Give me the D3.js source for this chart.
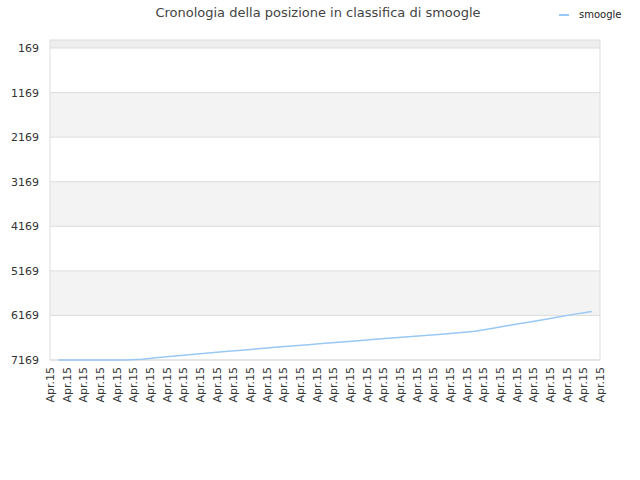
<!DOCTYPE html>
<html>
<head>
<meta charset="utf-8">
<script src="https://cdn.jsdelivr.net/npm/d3@7"></script>
<style>
  body { margin: 0; background: #fff; }
  text { font-family: "DejaVu Sans", sans-serif; }
</style>
</head>
<body>
<div id="chart"></div>
<script>
// Ranking history data
const dates = Array.from({ length: 34 }, () => 'Apr.15');
const ranks = [7169, 7169, 7169, 7169, 7169, 7150, 7115, 7080, 7045, 7012, 6980,
  6948, 6916, 6885, 6855, 6825, 6795, 6765, 6735, 6706, 6677, 6648, 6620,
  6590, 6560, 6525, 6460, 6395, 6335, 6270, 6205, 6140, 6080];
const yTicks = [169, 1169, 2169, 3169, 4169, 5169, 6169, 7169];

const W = 640, H = 480;
const plotL = 50, plotR = 600, plotT = 40, plotB = 360;

const svg = d3.select('#chart').append('svg')
  .attr('width', W).attr('height', H);

const y = d3.scaleLinear().domain([169, 7169]).range([48, 360]);
const xLab = d3.scalePoint().domain(d3.range(dates.length)).range([plotL, plotR]);
const xBand = d3.scaleBand().domain(d3.range(ranks.length)).range([plotL, plotR]);

// alternating bands
svg.append('rect').attr('x', plotL).attr('y', plotT).attr('width', plotR - plotL)
  .attr('height', y(169) - plotT).attr('fill', '#eeeeee');
for (let i = 0; i < yTicks.length - 1; i++) {
  svg.append('rect')
    .attr('x', plotL).attr('y', y(yTicks[i]))
    .attr('width', plotR - plotL).attr('height', y(yTicks[i + 1]) - y(yTicks[i]))
    .attr('fill', i % 2 ? '#f3f3f3' : '#ffffff');
}

// grid lines
svg.selectAll('.grid').data(yTicks).enter().append('line')
  .attr('x1', plotL).attr('x2', plotR)
  .attr('y1', d => y(d)).attr('y2', d => y(d))
  .attr('stroke', '#dddddd');
svg.append('rect').attr('x', plotL).attr('y', plotT).attr('width', plotR - plotL)
  .attr('height', plotB - plotT).attr('fill', 'none').attr('stroke', '#dddddd');

// y labels
svg.selectAll('.yl').data(yTicks).enter().append('text')
  .attr('x', plotL - 11).attr('y', d => y(d) + 4)
  .attr('text-anchor', 'end').attr('font-size', 11).attr('fill', '#333')
  .text(d => d);

// x labels
svg.selectAll('.xl').data(dates).enter().append('text')
  .attr('transform', (d, i) => `translate(${xLab(i) + 4},${plotB + 7}) rotate(-90)`)
  .attr('text-anchor', 'end').attr('font-size', 11).attr('fill', '#333')
  .text(d => d);

// line
const line = d3.line()
  .x((d, i) => xBand(i) + xBand.bandwidth() / 2)
  .y(d => y(d));
svg.append('path').datum(ranks)
  .attr('d', line).attr('fill', 'none')
  .attr('stroke', '#99c8f5').attr('stroke-width', 1.5);

// title
svg.append('text').attr('x', 318).attr('y', 17)
  .attr('text-anchor', 'middle').attr('font-size', 13).attr('fill', '#444')
  .text('Cronologia della posizione in classifica di smoogle');

// legend
svg.append('line').attr('x1', 559).attr('x2', 569).attr('y1', 15).attr('y2', 15)
  .attr('stroke', '#99c8f5').attr('stroke-width', 2);
svg.append('text').attr('x', 579).attr('y', 18)
  .attr('font-size', 10).attr('fill', '#222').text('smoogle');
</script>
</body>
</html>
